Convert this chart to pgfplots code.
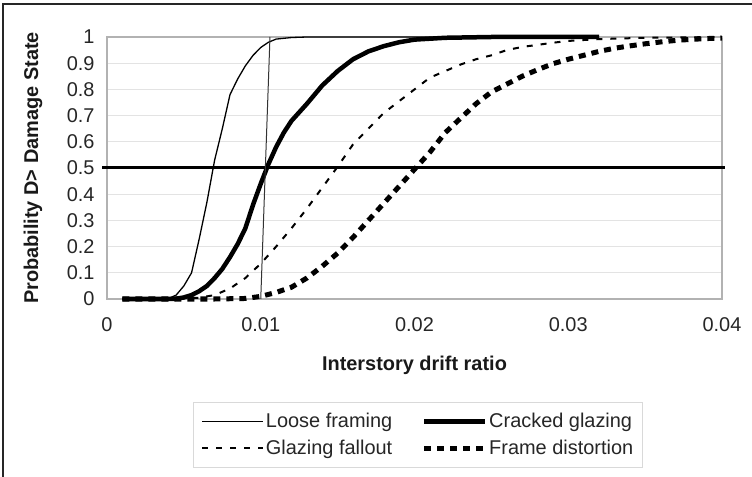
\documentclass[border=0pt]{standalone}
\usepackage{fontspec}
\setmainfont{Liberation Sans}
\usepackage{pgfplots}
\pgfplotsset{compat=1.18}
\begin{document}
\begin{tikzpicture}
\path[use as bounding box] (0,0) rectangle (752bp,477bp);
\draw[line width=1.5bp, black!85] (3bp,0) -- (3bp,473bp) -- (752bp,473bp);
\begin{axis}[
  at={(107bp,178bp)}, anchor=south west,
  scale only axis, width=615bp, height=262bp,
  xmin=0, xmax=0.04, ymin=0, ymax=1,
  scaled x ticks=false,
  xtick={0,0.01,0.02,0.03,0.04}, xticklabels={0,0.01,0.02,0.03,0.04},
  ytick={0,0.1,0.2,0.3,0.4,0.5,0.6,0.7,0.8,0.9,1},
  yticklabels={0,0.1,0.2,0.3,0.4,0.5,0.6,0.7,0.8,0.9,1},
  major tick length=0,
  ymajorgrids, grid style={gray!22, line width=1bp},
  axis line style={gray!60, line width=1.2bp},
  tick label style={font=\fontsize{20}{23}\selectfont, text=black!85},
  xticklabel style={yshift=-15bp},
  yticklabel style={xshift=-9bp},
  xlabel={Interstory drift ratio}, ylabel={Probability D> Damage State},
  label style={font=\bfseries\fontsize{20}{23}\selectfont, text=black!90},
  xlabel style={at={(axis description cs:0.5,-0.252)}, anchor=center},
  ylabel style={at={(axis description cs:-0.1203,0.5)}, anchor=center},
  clip=false,
  legend columns=2,
  legend style={at={(axis description cs:0.1398,-0.3931)}, anchor=north west,
    draw=black!15, line width=1bp, font=\fontsize{20}{23}\selectfont, text=black!85,
    inner xsep=8bp, inner ysep=9bp, row sep=7bp,
    nodes={inner xsep=1.5bp, inner ysep=2bp},
    /tikz/every even column/.append style={column sep=28bp}},
  legend cell align=left,
  legend image code/.code={\draw[#1] (0bp,0bp) -- (61bp,0bp);},
]
\addplot[black, line width=1.3bp] coordinates {
(0.001,0) (0.002,0) (0.003,0) (0.004,0.002) (0.0045,0.015) (0.005,0.05) (0.0055,0.10)
(0.006,0.23) (0.0065,0.37) (0.007,0.53) (0.0075,0.65) (0.008,0.78) (0.0085,0.84)
(0.009,0.89) (0.0095,0.93) (0.010,0.96) (0.0105,0.98) (0.011,0.992) (0.012,0.998)
(0.013,1) (0.032,1)};
\addlegendentry{Loose framing}
\addplot[black, line width=4.5bp, line join=round] coordinates {
(0.001,0) (0.002,0) (0.003,0) (0.004,0) (0.0045,0.001) (0.005,0.006) (0.0055,0.015)
(0.006,0.03) (0.0065,0.05) (0.007,0.08) (0.0075,0.115) (0.008,0.16) (0.0085,0.21)
(0.009,0.27) (0.0095,0.36) (0.010,0.44) (0.0105,0.515) (0.011,0.58) (0.0115,0.635)
(0.012,0.68) (0.013,0.745) (0.014,0.815) (0.015,0.87) (0.016,0.915) (0.017,0.945)
(0.018,0.965) (0.019,0.98) (0.020,0.99) (0.022,0.997) (0.025,1) (0.032,1)};
\addlegendentry{Cracked glazing}
\addplot[black, line width=2bp, dash pattern=on 6bp off 8bp] coordinates {
(0.001,0) (0.002,0) (0.003,0) (0.004,0) (0.005,0.001) (0.006,0.005) (0.007,0.015)
(0.008,0.04) (0.009,0.08) (0.010,0.135) (0.011,0.2) (0.012,0.27) (0.013,0.345)
(0.014,0.425) (0.015,0.505) (0.016,0.59) (0.017,0.65) (0.018,0.71) (0.019,0.755)
(0.020,0.80) (0.021,0.845) (0.022,0.87) (0.023,0.895) (0.024,0.915) (0.025,0.93)
(0.026,0.95) (0.027,0.962) (0.028,0.97) (0.029,0.978) (0.030,0.985) (0.032,0.992)
(0.035,0.997) (0.040,1)};
\addlegendentry{Glazing fallout}
\addplot[black, line width=5bp, dash pattern=on 7bp off 6bp] coordinates {
(0.001,0) (0.002,0) (0.003,0) (0.004,0) (0.005,0) (0.006,0) (0.007,0) (0.008,0.001)
(0.009,0.002) (0.010,0.01) (0.011,0.025) (0.012,0.045) (0.013,0.08) (0.014,0.125)
(0.015,0.175) (0.016,0.235) (0.017,0.30) (0.018,0.365) (0.019,0.43) (0.020,0.495)
(0.021,0.56) (0.022,0.635) (0.023,0.69) (0.024,0.745) (0.025,0.79) (0.026,0.82)
(0.027,0.85) (0.028,0.875) (0.029,0.898) (0.030,0.915) (0.031,0.93) (0.032,0.945)
(0.033,0.957) (0.034,0.966) (0.035,0.974) (0.036,0.981) (0.037,0.987) (0.038,0.991)
(0.039,0.994) (0.040,0.996)};
\addlegendentry{Frame distortion}
\addplot[black, line width=3bp, forget plot] coordinates {(-0.0003,0.5) (0.0402,0.5)};
\addplot[black!80, line width=1bp, forget plot] coordinates {(0.0100,0) (0.0106,1)};
\end{axis}
\end{tikzpicture}
\end{document}
